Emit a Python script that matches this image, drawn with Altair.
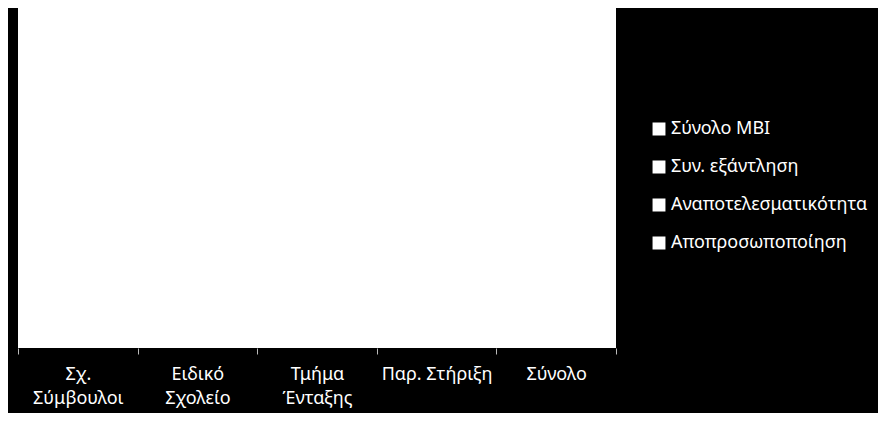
import altair as alt
import pandas as pd

categories = ["Σχ.\nΣύμβουλοι", "Ειδικό\nΣχολείο", "Τμήμα\nΈνταξης", "Παρ. Στήριξη", "Σύνολο"]
series = ["Σύνολο MBI", "Συν. εξάντληση", "Αναποτελεσματικότητα", "Αποπροσωποποίηση"]
# No bars are visible in the reference (white on white); values read as 0
values_mbi = [0, 0, 0, 0, 0]
values_exhaustion = [0, 0, 0, 0, 0]
values_inefficacy = [0, 0, 0, 0, 0]
values_depersonal = [0, 0, 0, 0, 0]

rows = []
for s, vals in zip(series, [values_mbi, values_exhaustion, values_inefficacy, values_depersonal]):
    for c, v in zip(categories, vals):
        rows.append({"cat": c, "series": s, "value": v})
df = pd.DataFrame(rows)

FONT = "Noto Sans"

chart = alt.Chart(df).mark_bar().encode(
    x=alt.X("cat:N", sort=categories, title=None,
            scale=alt.Scale(paddingOuter=0, paddingInner=0),
            axis=alt.Axis(labelAngle=0, tickBand="extent", labelExpr="split(datum.label, '\\n')",
                          labelColor="white", labelFont=FONT, labelFontSize=18,
                          labelPadding=11, labelLineHeight=24,
                          domain=False, tickColor="#bbbbbb", tickSize=6, tickWidth=1)),
    xOffset=alt.XOffset("series:N", sort=series, scale=alt.Scale(paddingOuter=0.3)),
    y=alt.Y("value:Q", axis=None, scale=alt.Scale(domain=[0, 1])),
    color=alt.Color("series:N", sort=series, title=None,
                    scale=alt.Scale(domain=series, range=["white", "white", "white", "white"]),
                    legend=alt.Legend(orient="none", legendX=632, legendY=112,
                                      symbolType="square", symbolSize=130,
                                      symbolStrokeColor="white", symbolFillColor="white",
                                      labelColor="white", labelFont=FONT, labelFontSize=18,
                                      labelLimit=400, rowPadding=20, labelOffset=3)),
).properties(
    width=598, height=340, background="black",
    autosize=alt.AutoSizeParams(type="none"),
    padding={"left": 10, "top": 0, "right": 262, "bottom": 65},
).configure_view(fill="white", stroke=None)

chart.save("out.html", embed_options={"renderer": "svg", "actions": False})
